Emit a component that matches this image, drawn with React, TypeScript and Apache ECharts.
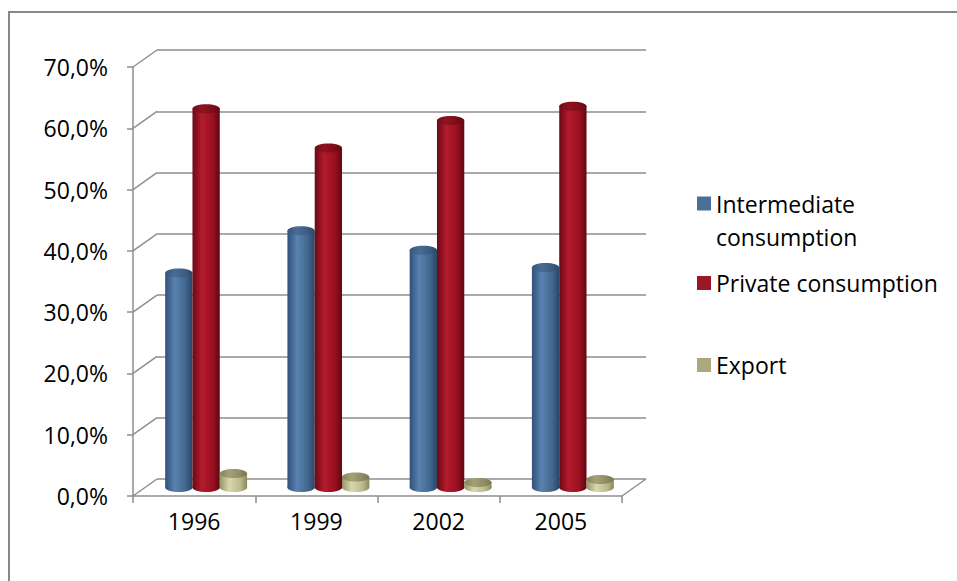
import React, { useEffect, useRef } from 'react';
import * as echarts from 'echarts';

const categories = ['1996', '1999', '2002', '2005'];
const intermediateConsumption = [35.0, 41.9, 38.7, 35.9];
const privateConsumption = [61.8, 55.4, 59.9, 62.2];
const exportShare = [2.3, 1.7, 0.8, 1.3];
const seriesNames = ['Intermediate consumption', 'Private consumption', 'Export'];
const yTicks = [0, 10, 20, 30, 40, 50, 60, 70];

const FONT = '"Open Sans", "Noto Sans", "Liberation Sans", sans-serif';
const FS = 23;
const LINE = '#8e8e8e';
const DX = 24;
const DY = -17;
const GAP = 0.33;

const palettes = [
  { legend: '#4A7099', body: ['#2f5079', '#5a82b0', '#42678f', '#2a4566'], top: ['#35557b', '#4a6c94', '#3b5b81', '#2e4768'] },
  { legend: '#9B1626', body: ['#6a0a15', '#b41b2d', '#980f20', '#5f0811'], top: ['#730b17', '#8f1321', '#7a0c18', '#650912'] },
  { legend: '#AAA87C', body: ['#96946b', '#d8d7ae', '#bcba8d', '#8a885f'], top: ['#86845c', '#a3a176', '#8d8b62', '#7a7852'] },
];

function grad(c: string[]) {
  return new echarts.graphic.LinearGradient(0, 0, 1, 0, [
    { offset: 0, color: c[0] },
    { offset: 0.35, color: c[1] },
    { offset: 0.75, color: c[2] },
    { offset: 1, color: c[3] },
  ]);
}

const fmt = (v: number) => v.toFixed(1).replace('.', ',') + '%';

export default function App() {
  const ref = useRef<HTMLDivElement>(null);
  useEffect(() => {
    if (!ref.current) return;
    const chart = echarts.init(ref.current, undefined, { renderer: 'svg' });
    const dataSets = [intermediateConsumption, privateConsumption, exportShare];

    const barSeries = dataSets.map((d, idx) => ({
      name: seriesNames[idx],
      type: 'bar',
      xAxisIndex: 2,
      yAxisIndex: 2,
      barGap: '0%',
      barCategoryGap: '33%',
      z: 3,
      itemStyle: { color: grad(palettes[idx].body) },
      data: d,
    }));

    const capSeries = dataSets.map((d, idx) => ({
      type: 'custom',
      xAxisIndex: 2,
      yAxisIndex: 2,
      z: 5,
      silent: true,
      data: d.map((v, i) => [i, v]),
      encode: { x: 0, y: 1 },
      renderItem: (params: any, api: any) => {
        const top = api.coord([api.value(0), api.value(1)]);
        const base = api.coord([api.value(0), 0]);
        const band = api.size([1, 0])[0];
        const bw = (band * (1 - GAP)) / 3;
        const cx = top[0] + (idx - 1) * bw;
        const rx = bw / 2;
        const ry = 4.5;
        return {
          type: 'group',
          children: [
            { type: 'ellipse', shape: { cx, cy: base[1], rx, ry }, style: { fill: grad(palettes[idx].body) } },
            { type: 'ellipse', shape: { cx, cy: top[1], rx, ry }, style: { fill: grad(palettes[idx].top) } },
          ],
        };
      },
    }));

    const connectorSeries = {
      type: 'custom',
      xAxisIndex: 1,
      yAxisIndex: 1,
      z: 1,
      silent: true,
      data: yTicks.map((v) => [0, v]),
      encode: { x: 0, y: 1 },
      renderItem: (params: any, api: any) => {
        const cs = params.coordSys;
        const y = api.coord([0, api.value(1)])[1];
        const x0 = cs.x;
        const st = { stroke: LINE, lineWidth: 1.5 };
        const children: any[] = [
          { type: 'line', shape: { x1: x0, y1: y, x2: x0 + DX, y2: y + DY }, style: st },
        ];
        if (api.value(1) === 0) {
          children.push({ type: 'line', shape: { x1: x0 + cs.width, y1: y, x2: x0 + cs.width + DX, y2: y + DY }, style: st });
        }
        return { type: 'group', children };
      },
    };

    const legendBase = {
      orient: 'vertical',
      left: 697,
      itemWidth: 14,
      itemHeight: 14,
      itemGap: 0,
      padding: 0,
      icon: 'rect',
      selectedMode: false,
    };

    chart.setOption({
      animation: false,
      backgroundColor: '#fff',
      grid: [
        { left: 157, top: 50, width: 489, height: 429 },
        { left: 133, top: 67, width: 489, height: 429 },
        { left: 145, top: 58.5, width: 489, height: 429 },
      ],
      xAxis: [
        { type: 'category', gridIndex: 0, data: categories, show: false },
        {
          type: 'category',
          gridIndex: 1,
          data: categories,
          axisLine: { show: true, lineStyle: { color: LINE, width: 1.5 } },
          axisTick: { show: true, length: 7, interval: 0, alignWithLabel: false, lineStyle: { color: LINE, width: 1.5 } },
          axisLabel: { margin: 13, fontSize: FS, fontFamily: FONT, color: '#000' },
          splitLine: { show: false },
        },
        { type: 'category', gridIndex: 2, data: categories, show: false },
      ],
      yAxis: [
        {
          type: 'value',
          gridIndex: 0,
          min: 0,
          max: 70,
          interval: 10,
          axisLabel: { show: false },
          axisLine: { show: false },
          axisTick: { show: false },
          splitLine: { show: true, lineStyle: { color: LINE, width: 1.5 } },
        },
        {
          type: 'value',
          gridIndex: 1,
          min: 0,
          max: 70,
          interval: 10,
          axisLine: { show: true, lineStyle: { color: LINE, width: 1.5 } },
          axisTick: { show: true, length: 6, lineStyle: { color: LINE, width: 1.5 } },
          axisLabel: { margin: 25, fontSize: FS, fontFamily: FONT, color: '#000', formatter: fmt },
          splitLine: { show: false },
        },
        { type: 'value', gridIndex: 2, min: 0, max: 70, interval: 10, show: false },
      ],
      legend: [
        {
          ...legendBase,
          top: 154,
          data: [{ name: seriesNames[0], itemStyle: { color: palettes[0].legend } }],
          formatter: () => ' \nIntermediate\nconsumption',
          textStyle: { fontSize: FS, fontFamily: FONT, color: '#000', lineHeight: 33 },
        },
        {
          ...legendBase,
          top: 271,
          data: [{ name: seriesNames[1], itemStyle: { color: palettes[1].legend } }],
          textStyle: { fontSize: FS, fontFamily: FONT, color: '#000', lineHeight: 24 },
        },
        {
          ...legendBase,
          top: 353,
          data: [{ name: seriesNames[2], itemStyle: { color: palettes[2].legend } }],
          textStyle: { fontSize: FS, fontFamily: FONT, color: '#000', lineHeight: 24 },
        },
      ],
      graphic: [
        {
          type: 'rect',
          shape: { x: 9, y: 12, width: 1200, height: 1200 },
          style: { fill: 'none', stroke: '#878787', lineWidth: 2 },
          silent: true,
        },
      ],
      series: [connectorSeries, ...barSeries, ...capSeries],
    });
    return () => chart.dispose();
  }, []);
  return <div ref={ref} style={{ position: 'absolute', left: 0, top: 0, width: 957, height: 581 }} />;
}
